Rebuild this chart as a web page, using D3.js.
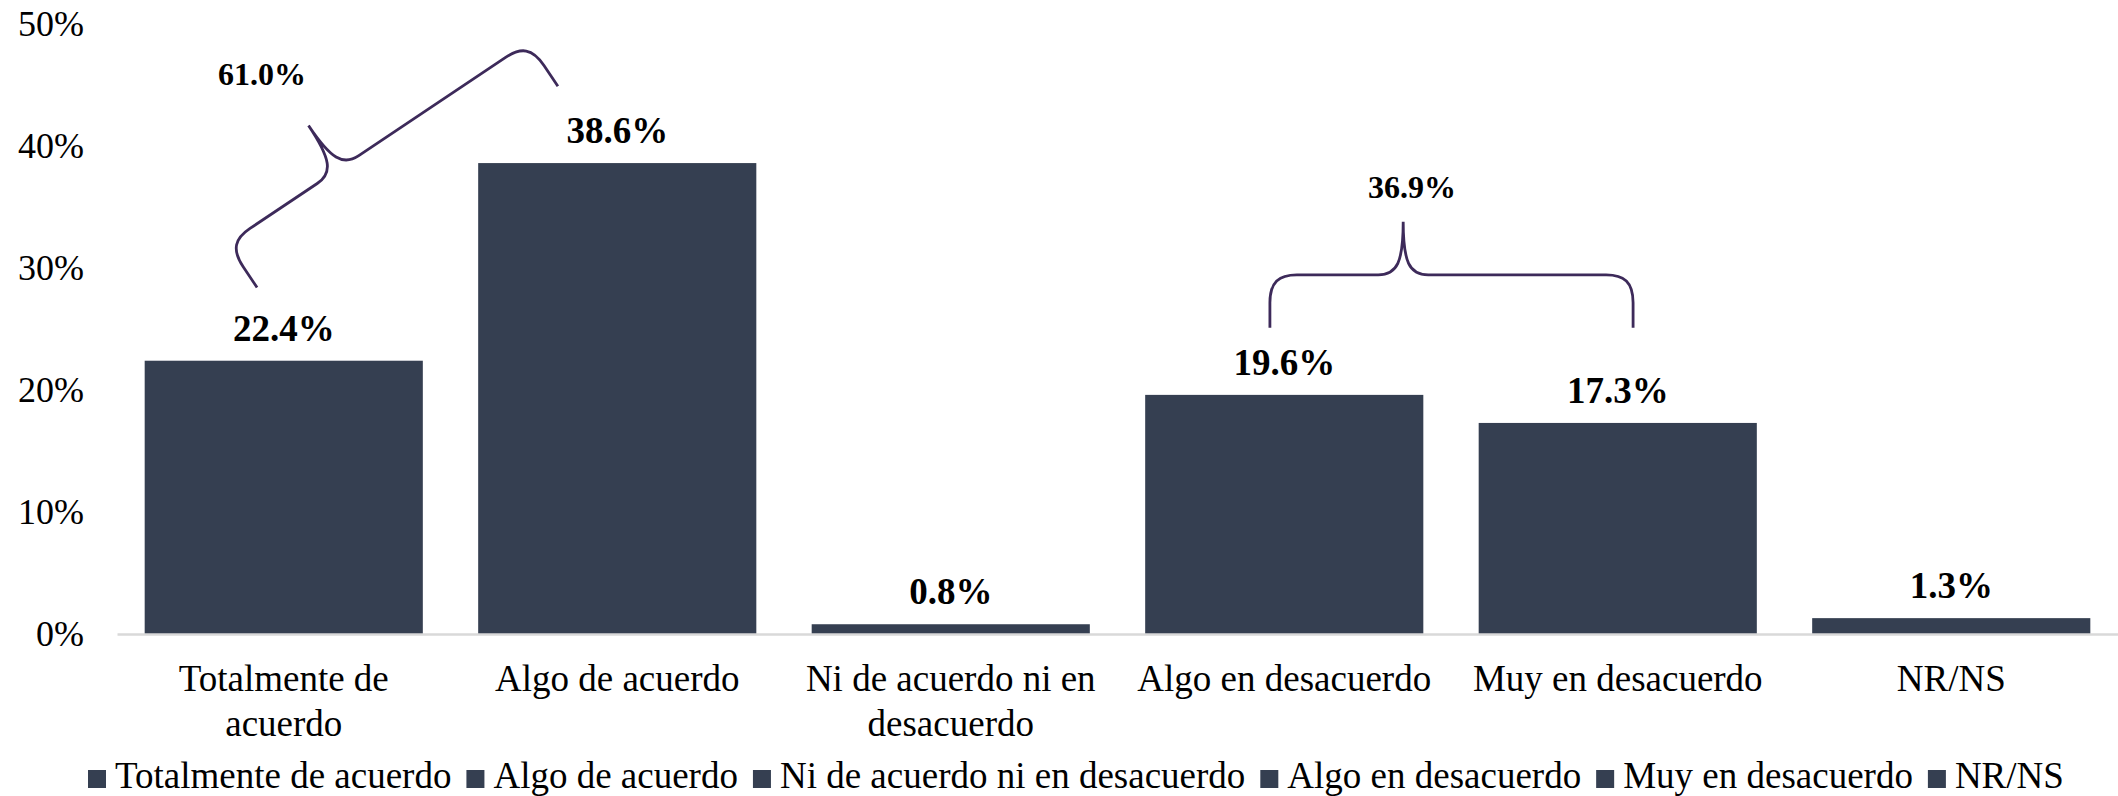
<!DOCTYPE html>
<meta charset="utf-8">
<style>
    body {
        margin: 0;
        background: #fff;
    }

    svg {
        display: block;
        font-family: "Liberation Serif", "Times New Roman", serif;
    }

    .axis text {
        fill: #000;
    }

    .bar {
        fill: #353f51;
    }

    .value {
        font-weight: bold;
        font-size: 37px;
        fill: #000;
    }

    .brace {
        fill: none;
        stroke: #3d2a5a;
        stroke-width: 2.8;
    }
</style>

<body>
    <script src="https://d3js.org/d3.v7.min.js"></script>
    <script>

        var categories = ["Totalmente de acuerdo", "Algo de acuerdo", "Ni de acuerdo ni en desacuerdo",
            "Algo en desacuerdo", "Muy en desacuerdo", "NR/NS"];
        var values = [22.4, 38.6, 0.8, 19.6, 17.3, 1.3];
        var yTicks = [0, 10, 20, 30, 40, 50];

        // bars summed under each brace
        var braceGroups = [[0, 1], [3, 4]];
        // brace ends and label spot, in (category step, %) units
        var braceStart = [[0.42, 28.4], [3.457, 25.1]];
        var braceEnd = [[1.322, 44.9], [4.546, 25.1]];
        var braceLabelAt = [[0.435, 45.0], [3.883, 35.7]];

        var W = 2118, H = 796;
        var margin = { top: 24, right: 0, bottom: 162, left: 117 };

        var svg = d3.select("body").append("svg")
            .attr("width", W)
            .attr("height", H);

        var x = d3.scaleBand()
            .domain(categories)
            .range([margin.left, W - margin.right])
            .paddingInner(0.166)
            .paddingOuter(0.083);

        var y = d3.scaleLinear()
            .domain([0, 50])
            .range([H - margin.bottom, margin.top]);

        // position inside the plot measured in category steps
        function xAt(i) {
            return x.range()[0] + i * x.step();
        }

        // y axis, labels only
        var yAxis = svg.append("g")
            .attr("class", "axis")
            .attr("transform", "translate(84,0)")
            .call(d3.axisLeft(y).tickValues(yTicks).tickSize(0).tickPadding(0)
                .tickFormat(function (d) { return d + "%"; }));
        yAxis.select(".domain").remove();
        yAxis.attr("font-family", null).attr("font-size", null);
        yAxis.selectAll("text").style("font-size", "36px");

        svg.selectAll(".bar")
            .data(values)
            .enter()
            .append("rect")
            .attr("class", "bar")
            .attr("x", function (d, i) { return x(categories[i]); })
            .attr("y", function (d) { return y(d); })
            .attr("width", x.bandwidth())
            .attr("height", function (d) { return y(0) - y(d); });

        // x axis
        var xAxis = svg.append("g")
            .attr("class", "axis")
            .attr("transform", "translate(0," + y(0) + ")")
            .call(d3.axisBottom(x).tickSize(0).tickSizeOuter(0).tickPadding(31));
        xAxis.attr("font-family", null).attr("font-size", null);
        xAxis.select(".domain")
            .attr("stroke", "#d9d9d9")
            .attr("stroke-width", 2.5);
        xAxis.selectAll("text")
            .style("font-size", "37px")
            .call(wrap, 310);

        function wrap(text, width) {
            text.each(function () {
                var text = d3.select(this),
                    words = text.text().split(/\s+/),
                    line = [],
                    lineNumber = 0,
                    yy = text.attr("y"),
                    tspan = text.text(null).append("tspan").attr("x", 0).attr("y", yy).attr("dy", "0.71em");
                words.forEach(function (word) {
                    line.push(word);
                    tspan.text(line.join(" "));
                    if (tspan.node().getComputedTextLength() > width && line.length > 1) {
                        line.pop();
                        tspan.text(line.join(" "));
                        line = [word];
                        lineNumber++;
                        tspan = text.append("tspan").attr("x", 0).attr("y", yy)
                            .attr("dy", (0.71 + lineNumber * 1.2) + "em").text(word);
                    }
                });
                text.attr("dy", null);
            });
        }

        // value labels
        svg.selectAll(".value")
            .data(values)
            .enter()
            .append("text")
            .attr("class", "value")
            .attr("text-anchor", "middle")
            .attr("x", function (d, i) { return x(categories[i]) + x.bandwidth() / 2; })
            .attr("y", function (d) { return y(d) - 20; })
            .text(function (d) { return d.toFixed(1) + "%"; });

        // curly braces
        function bracePath(len) {
            var h1 = 53, h2 = 106, t = len * 0.367;
            return "M0,0 L0,-25 C0,-46 9,-53 27,-53" +
                " L" + (t - 25) + ",-53" +
                " C" + (t - 6) + ",-53 " + t + ",-66 " + t + ",-" + h2 +
                " C" + t + ",-66 " + (t + 6) + ",-53 " + (t + 25) + ",-53" +
                " L" + (len - 27) + ",-53" +
                " C" + (len - 9) + ",-53 " + len + ",-46 " + len + ",-25" +
                " L" + len + ",0";
        }

        braceGroups.forEach(function (grp, k) {
            var x1 = xAt(braceStart[k][0]), y1 = y(braceStart[k][1]),
                x2 = xAt(braceEnd[k][0]), y2 = y(braceEnd[k][1]);
            var len = Math.sqrt((x2 - x1) * (x2 - x1) + (y2 - y1) * (y2 - y1));
            var ang = Math.atan2(y2 - y1, x2 - x1) * 180 / Math.PI;
            svg.append("path")
                .attr("class", "brace")
                .attr("transform", "translate(" + x1 + "," + y1 + ") rotate(" + ang + ")")
                .attr("d", bracePath(len));

            var total = d3.sum(grp, function (i) { return values[i]; });
            svg.append("text")
                .attr("class", "value")
                .style("font-size", "32px")
                .attr("text-anchor", "middle")
                .attr("x", xAt(braceLabelAt[k][0]))
                .attr("y", y(braceLabelAt[k][1]))
                .text(total.toFixed(1) + "%");
        });

        // legend
        var legend = svg.append("g")
            .attr("transform", "translate(88,788)");
        var lx = 0;
        categories.forEach(function (c) {
            legend.append("rect")
                .attr("class", "bar")
                .attr("x", lx)
                .attr("y", -18)
                .attr("width", 18)
                .attr("height", 18);
            var t = legend.append("text")
                .attr("x", lx + 27)
                .attr("y", 0)
                .style("font-size", "37px")
                .attr("fill", "#000")
                .text(c);
            lx += 27 + t.node().getComputedTextLength() + 15;
        });

    </script>
</body>
